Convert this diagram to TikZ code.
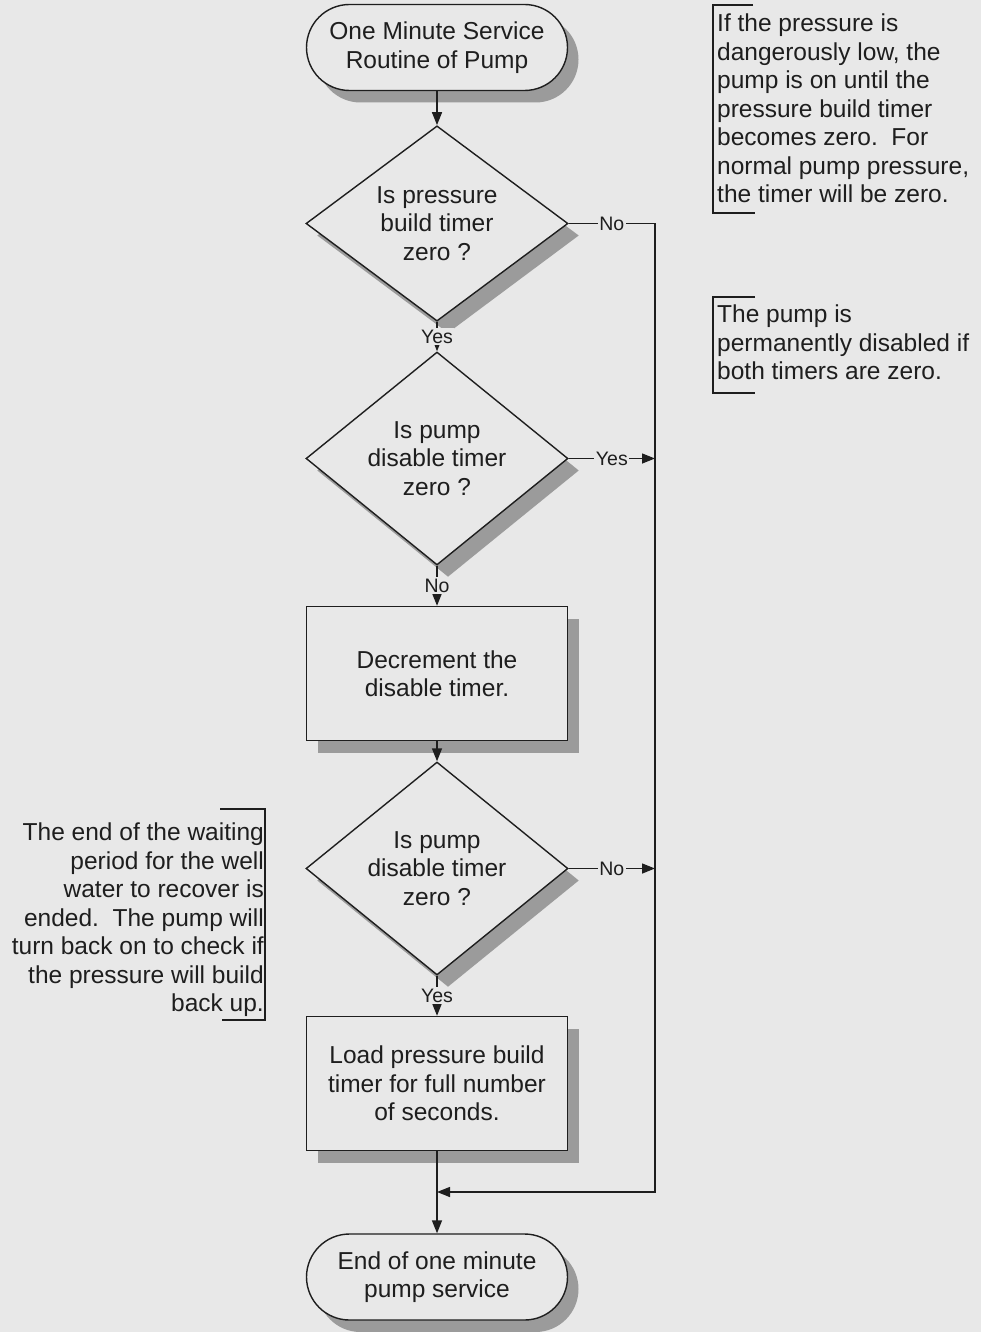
\documentclass[tikz,border=0pt]{standalone}
\usepackage{fontspec}
\setmainfont{Liberation Sans}
\usetikzlibrary{shapes.geometric,shapes.misc,shadows,arrows.meta,calc}
\definecolor{bgc}{RGB}{232,232,232}
\definecolor{ink}{RGB}{30,30,30}
\definecolor{shd}{RGB}{155,155,155}
\newcommand\mainsz{\fontsize{24.5}{28.5}\selectfont}
\newcommand\lblsz{\fontsize{19.5}{22}\selectfont}
\begin{document}
\begin{tikzpicture}[x=1pt,y=-1pt,
  every node/.style={text=ink},
  shd/.style={drop shadow={shadow xshift=11pt,shadow yshift=-12pt,fill=shd,opacity=1}},
  term/.style={rounded rectangle,draw=ink,line width=1.4pt,fill=bgc,shd,
    minimum width=261pt,minimum height=86pt,inner sep=0pt,align=center,font=\mainsz},
  decide/.style={diamond,draw=ink,line width=1.4pt,fill=bgc,shd,
    minimum width=262pt,minimum height=173pt,inner sep=0pt,align=center,font=\mainsz},
  procbox/.style={rectangle,draw=ink,line width=1.4pt,fill=bgc,shd,
    minimum width=261pt,minimum height=134pt,inner sep=0pt,align=center,font=\mainsz},
  note/.style={inner sep=0pt,font=\mainsz},
  lbl/.style={fill=bgc,inner sep=1.5pt,font=\lblsz},
  conn/.style={draw=ink,line width=1.4pt},
  arr/.style={conn,-{Triangle[length=13pt,width=10pt]}},
  bracket/.style={draw=ink,line width=1.4pt}
]
\useasboundingbox (0,0) rectangle (980,1332);
\fill[bgc] (-40,-40) rectangle (1020,1372);

% flowchart nodes
\node[term]    (start) at (437,47.5)  {One Minute Service\\Routine of Pump};
\node[decide]  (d1)    at (437,223.5) {Is pressure\\build timer\\zero ?};
\node[decide]  (d2)    at (437,458.5) {Is pump\\disable timer\\zero ?};
\node[procbox] (r1)    at (437,673.5) {Decrement the\\disable timer.};
\node[decide]  (d3)    at (437,868.5) {Is pump\\disable timer\\zero ?};
\node[procbox] (r2)    at (437,1083.5) {Load pressure build\\timer for full number\\of seconds.};
\node[term]    (stop)  at (437,1277)  {End of one minute\\pump service};

\coordinate (rx) at (655,0);
\coordinate (j)  at (437,1192);

% main flow
\draw[arr] (start.south) -- (d1.north);
\draw[arr] (d1.south) -- node[lbl]{Yes} (d2.north);
\draw[arr] (d2.south) -- node[lbl]{No} (r1.north);
\draw[arr] (r1.south) -- (d3.north);
\draw[arr] (d3.south) -- node[lbl]{Yes} (r2.north);
\draw[arr] (r2.south) -- (stop.north);

% bypass line
\draw[arr] (d1.east) -- node[lbl]{No} (d1.east -| rx) -- (rx |- j) -- (j);
\draw[arr] (d2.east) -- node[lbl]{Yes} (d2.east -| rx);
\draw[arr] (d3.east) -- node[lbl]{No} (d3.east -| rx);

% annotations
\node[note,anchor=north west,align=left] (n1) at (717,14)
  {If the pressure is\\dangerously low, the\\pump is on until the\\pressure build timer\\becomes zero.\ \ For\\normal pump pressure,\\the timer will be zero.};
\draw[bracket] (753,5) -- (713,5) -- (713,213) -- (755,213);

\node[note,anchor=north west,align=left] (n2) at (717,305)
  {The pump is\\permanently disabled if\\both timers are zero.};
\draw[bracket] (755,297) -- (713,297) -- (713,393) -- (755,393);

\node[note,anchor=north east,align=right] (n3) at (264,823)
  {The end of the waiting\\period for the well\\water to recover is\\ended.\ \ The pump will\\turn back on to check if\\the pressure will build\\back up.};
\draw[bracket] (220,809) -- (265,809) -- (265,1020) -- (222,1020);
\end{tikzpicture}
\end{document}
